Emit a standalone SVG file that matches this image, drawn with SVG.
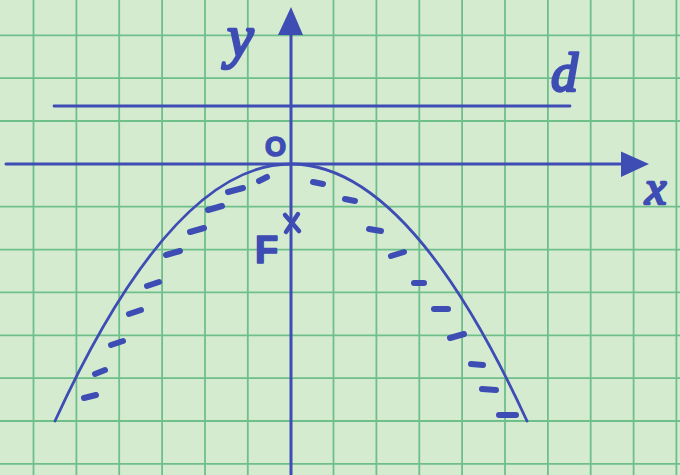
<svg xmlns="http://www.w3.org/2000/svg" width="680" height="475" viewBox="0 0 680 475">
  <style>
    .grid { stroke: #6fbf8a; stroke-width: 1.8; fill: none; }
    .ink { stroke: #3e4db3; fill: none; stroke-linecap: round; }
    .axis { stroke-width: 3; }
    .thin { stroke-width: 2.8; }
    .dash { stroke: #3e4db3; stroke-width: 6; stroke-linecap: round; fill: none; }
    .lbl { fill: #3e4db3; stroke: #3e4db3; stroke-linejoin: round; }
    .cur { font-family: "Liberation Serif", "DejaVu Serif", serif; font-style: italic; stroke-width: 2.6; }
    .cap { font-family: "Liberation Sans", "DejaVu Sans", sans-serif; font-weight: bold; stroke-width: 1.6; }
  </style>
  <rect width="680" height="475" fill="#d4ebd0"/>
  <g id="grid" class="grid">
    <path d="M33.5 0V475M76.4 0V475M119.2 0V475M162.1 0V475M205 0V475M247.8 0V475M333.5 0V475M376.4 0V475M419.3 0V475M462.1 0V475M505 0V475M547.9 0V475M590.7 0V475M633.6 0V475M676.4 0V475"/>
    <path d="M0 35.3H680M0 78.1H680M0 121H680M0 206.7H680M0 249.6H680M0 292.4H680M0 335.3H680M0 378.2H680M0 421H680M0 463.9H680"/>
  </g>
  <g id="connectors">
    <line id="x-axis" class="ink axis" x1="6" y1="164" x2="628" y2="164"/>
    <polygon points="649,164 621,151.5 621,177" fill="#3e4db3"/>
    <line id="y-axis" class="ink axis" x1="291" y1="475" x2="291" y2="30"/>
    <polygon points="291,7 278,35 303,35" fill="#3e4db3"/>
    <line id="directrix" class="ink thin" x1="54" y1="106" x2="570" y2="106"/>
    <path id="parabola" class="ink thin" d="M55 421Q291 -93 527 421"/>
  </g>
  <g id="hatching" class="dash">
    <path d="M259 181L267 177"/>
    <path d="M228 192L243 188"/>
    <path d="M208 210L222 206"/>
    <path d="M190 232L204 228"/>
    <path d="M166 255L180 251"/>
    <path d="M147 286L159 282"/>
    <path d="M129 314L141 310"/>
    <path d="M111 345L123 341"/>
    <path d="M95 374L105 370"/>
    <path d="M84 398L96 395"/>
    <path d="M313 182L323 184"/>
    <path d="M345 199L355 201"/>
    <path d="M369 229L381 231"/>
    <path d="M391 256L404 252"/>
    <path d="M414 283L424 283"/>
    <path d="M434 309L448 309"/>
    <path d="M450 338L464 334"/>
    <path d="M471 364L483 365"/>
    <path d="M482 389L496 390"/>
    <path d="M499 415L516 415"/>
  </g>
  <g id="label-y"><text class="lbl cur" x="227" y="56" font-size="60">y</text></g>
  <g id="label-x"><text class="lbl cur" x="645" y="204" font-size="48">x</text></g>
  <g id="label-d"><text class="lbl cur" x="551" y="91" font-size="54">d</text></g>
  <g id="label-O"><text class="lbl cap" x="265" y="156" font-size="27">O</text></g>
  <g id="focus">
    <text class="lbl cap" x="255" y="263" font-size="38">F</text>
    <path class="ink" stroke-width="4.5" d="M285 215L299 231M298 214L286 232"/>
  </g>
</svg>
